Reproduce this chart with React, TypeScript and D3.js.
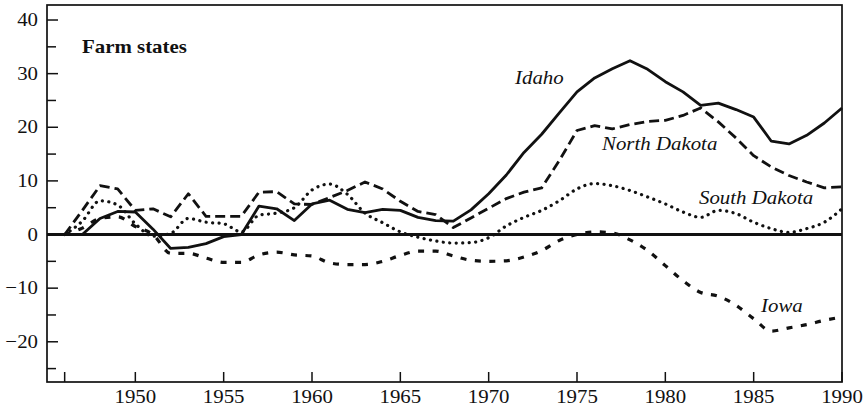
import React, { useEffect, useRef } from 'react'
import * as d3 from 'd3'

// years 1946 - 1990
const years = d3.range(1946, 1991)

const idaho = [0, 0, 3.0, 4.3, 4.2, 1.0, -2.6, -2.4, -1.7, -0.4, 0, 5.3, 4.8, 2.6, 5.7, 6.4, 4.7, 4.1, 4.7, 4.5, 3.2, 2.6, 2.5, 4.6,
  7.6, 11.1, 15.3, 18.7, 22.7, 26.6, 29.2, 30.9, 32.4, 30.8, 28.5, 26.6, 24.1, 24.5, 23.3, 21.9, 17.4, 16.9, 18.5, 20.8, 23.6]

const northDakota = [0, 4.5, 9.1, 8.5, 4.5, 4.8, 3.3, 7.6, 3.4, 3.4, 3.4, 7.9, 8.0, 5.7, 5.6, 6.9, 8.2, 9.8, 8.5, 6.2, 4.3, 3.7, 1.3, 3.1,
  4.9, 6.7, 7.9, 8.7, 13.8, 19.4, 20.3, 19.7, 20.5, 21.1, 21.3, 22.2, 23.6, 21.0, 18.0, 14.7, 12.6, 11.0, 9.8, 8.7, 8.9]

const southDakota = [0, 2.5, 6.3, 5.5, 2.0, -0.3, 0.2, 3.0, 2.3, 2.0, 0.5, 3.6, 4.0, 5.0, 8.3, 9.4, 7.5, 4.0, 2.2, 0.5, -0.5, -1.2, -1.6, -1.5,
  -0.6, 1.6, 3.2, 4.5, 6.3, 8.5, 9.5, 9.1, 8.2, 7.0, 5.7, 4.2, 3.2, 4.5, 3.9, 2.3, 1.1, 0.4, 1.1, 2.3, 4.8]

const iowa = [0, 1.2, 3.0, 3.3, 1.5, 0.0, -3.5, -3.5, -4.4, -5.2, -5.2, -3.8, -3.3, -3.8, -4.0, -5.3, -5.6, -5.6, -5.0, -3.9, -3.1, -3.1, -4.0, -4.8,
  -5.0, -4.9, -4.2, -3.0, -1.1, 0.0, 0.5, 0.3, -1.0, -3.0, -5.8, -8.6, -10.8, -11.5, -13.2, -15.7, -18.0, -17.4, -16.8, -16.0, -15.4]

const xTicks = [1946, 1950, 1955, 1960, 1965, 1970, 1975, 1980, 1985, 1990]
const xLabels = [1950, 1955, 1960, 1965, 1970, 1975, 1980, 1985, 1990]
const yTicks = d3.range(-25, 41, 5)
const yLabels = [-20, -10, 0, 10, 20, 30, 40]

const series = [
  { name: 'Idaho', values: idaho, dash: null, width: 2.8, cap: 'butt', curve: d3.curveLinear },
  { name: 'North Dakota', values: northDakota, dash: '10,5', width: 2.8, cap: 'butt', curve: d3.curveLinear },
  { name: 'South Dakota', values: southDakota, dash: '0.1,6.4', width: 3.2, cap: 'round', curve: d3.curveMonotoneX },
  { name: 'Iowa', values: iowa, dash: '6,8.5', width: 3.2, cap: 'butt', curve: d3.curveMonotoneX }
]

const labels = [
  { text: 'Idaho', x: 515, y: 84 },
  { text: 'North Dakota', x: 602, y: 150 },
  { text: 'South Dakota', x: 699, y: 204 },
  { text: 'Iowa', x: 761, y: 312 }
]

const font = '"Liberation Serif", "Times New Roman", serif'
const fontSize = '18.8px'
const stretch = 'scale(1.11,1)'

export default function App () {
  const ref = useRef(null)

  useEffect(() => {
    const width = 868
    const height = 412
    const svg = d3.select(ref.current)
    svg.selectAll('*').remove()

    const x = d3.scaleLinear().domain([1945, 1990]).range([47, 842])
    const y = d3.scaleLinear().domain([-27.5, 42.8]).range([382, 5])

    svg.append('rect').attr('width', width).attr('height', height).attr('fill', '#fff')

    // frame
    svg.append('rect')
      .attr('x', x(1945)).attr('y', y(42.8))
      .attr('width', x(1990) - x(1945)).attr('height', y(-27.5) - y(42.8))
      .attr('fill', 'none').attr('stroke', '#111').attr('stroke-width', 1.7)

    // ticks, pointing inwards
    svg.selectAll('.xtick').data(xTicks).enter().append('line')
      .attr('x1', d => x(d)).attr('x2', d => x(d))
      .attr('y1', y(-27.5)).attr('y2', y(-27.5) - 10)
      .attr('stroke', '#111').attr('stroke-width', 1.5)

    svg.selectAll('.ytick').data(yTicks).enter().append('line')
      .attr('x1', x(1945)).attr('x2', d => x(1945) + (d % 10 === 0 ? 11 : 9))
      .attr('y1', d => y(d)).attr('y2', d => y(d))
      .attr('stroke', '#111').attr('stroke-width', 1.5)

    svg.selectAll('.xlabel').data(xLabels).enter().append('text')
      .attr('transform', d => `translate(${x(d)},403) ${stretch}`)
      .attr('text-anchor', 'middle')
      .style('font-family', font).style('font-size', fontSize).attr('fill', '#111')
      .text(d => d)

    svg.selectAll('.ylabel').data(yLabels).enter().append('text')
      .attr('transform', d => `translate(38,${y(d) + 6.2}) ${stretch}`)
      .attr('text-anchor', 'end')
      .style('font-family', font).style('font-size', fontSize).attr('fill', '#111')
      .text(d => (d < 0 ? '\u2212' + Math.abs(d) : d))

    // zero line
    svg.append('line')
      .attr('x1', x(1945)).attr('x2', x(1990))
      .attr('y1', y(0)).attr('y2', y(0))
      .attr('stroke', '#111').attr('stroke-width', 2.8)

    series.forEach(s => {
      const line = d3.line()
        .x((d, i) => x(years[i]))
        .y(d => y(d))
        .curve(s.curve)
      svg.append('path')
        .attr('d', line(s.values))
        .attr('fill', 'none')
        .attr('stroke', '#111')
        .attr('stroke-width', s.width)
        .attr('stroke-linecap', s.cap)
        .attr('stroke-linejoin', 'round')
        .attr('stroke-dasharray', s.dash)
    })

    svg.append('text')
      .attr('transform', `translate(82,53) ${stretch}`)
      .style('font-family', font).style('font-size', fontSize).style('font-weight', 'bold')
      .attr('fill', '#111')
      .text('Farm states')

    svg.selectAll('.slabel').data(labels).enter().append('text')
      .attr('transform', d => `translate(${d.x},${d.y}) ${stretch}`)
      .style('font-family', font).style('font-size', fontSize).style('font-style', 'italic')
      .attr('fill', '#111')
      .text(d => d.text)
  }, [])

  return (
    <svg ref={ref} width={868} height={412}
      style={{ position: 'absolute', left: 0, top: 0, display: 'block' }} />
  )
}
